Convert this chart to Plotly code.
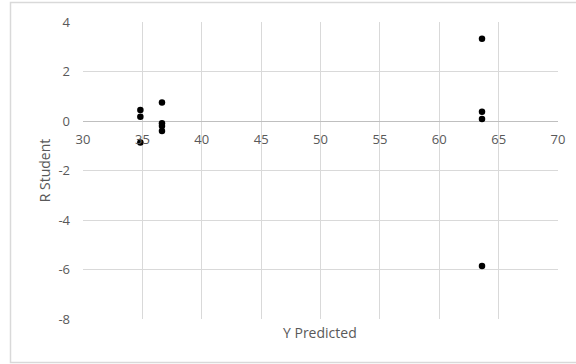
import plotly.graph_objects as go

y_predicted = [34.83, 34.83, 34.83, 36.65, 36.65, 36.65, 36.65, 63.6, 63.6, 63.6, 63.6]
r_student = [0.44, 0.17, -0.87, 0.75, -0.09, -0.2, -0.4, 3.32, 0.375, 0.08, -5.86]

x_ticks = [30, 35, 40, 45, 50, 55, 60, 65, 70]
y_ticks = [-8, -6, -4, -2, 0, 2, 4]
y_tick_text = [str(v) for v in y_ticks]

W, H = 576, 364
ml, mr, mt, mb = 83, 18, 22, 45
pw, ph = W - ml - mr, H - mt - mb

fig = go.Figure()
fig.add_trace(go.Scatter(
    x=y_predicted, y=r_student, mode="markers",
    marker=dict(color="black", size=6.5),
    hoverinfo="x+y", showlegend=False,
))

font = dict(family="Open Sans, Liberation Sans, sans-serif", color="#595959", size=13)

fig.update_layout(
    width=W, height=H,
    margin=dict(l=ml, r=mr, t=mt, b=mb, autoexpand=False),
    paper_bgcolor="white", plot_bgcolor="white",
    font=font,
    xaxis=dict(
        range=[30, 70], tickvals=x_ticks, showgrid=True, gridcolor="#d9d9d9", gridwidth=1,
        zeroline=False, showline=False, anchor="free", position=8 / 12,
        ticks="outside", ticklen=6, tickcolor="rgba(0,0,0,0)",
        tickfont=dict(size=13), automargin=False,
    ),
    yaxis=dict(
        range=[-8, 4], tickvals=y_ticks, ticktext=y_tick_text,
        showgrid=True, gridcolor="#d9d9d9", gridwidth=1,
        zeroline=True, zerolinecolor="#bfbfbf", zerolinewidth=1.3, showline=False,
        ticklabelstandoff=12, tickfont=dict(size=13), automargin=False,
        title=dict(text="R Student", font=dict(size=14), standoff=4),
    ),
    annotations=[dict(
        text="Y Predicted", xref="paper", yref="paper", x=(320 - ml) / pw, y=(H - 332 - mb) / ph,
        showarrow=False, font=dict(size=14), xanchor="center", yanchor="middle",
    )],
    shapes=[dict(
        type="rect", xref="paper", yref="paper",
        x0=(10.5 - ml) / pw, x1=(W + 5 - ml) / pw,
        y0=(H - 362.5 - mb) / ph, y1=(H - 2.5 - mb) / ph,
        line=dict(color="#d9d9d9", width=1.5), fillcolor="rgba(0,0,0,0)", layer="below",
    )],
)

fig.write_html("out.html", config={"displayModeBar": False},
               post_script="document.body.style.margin='0px';")
